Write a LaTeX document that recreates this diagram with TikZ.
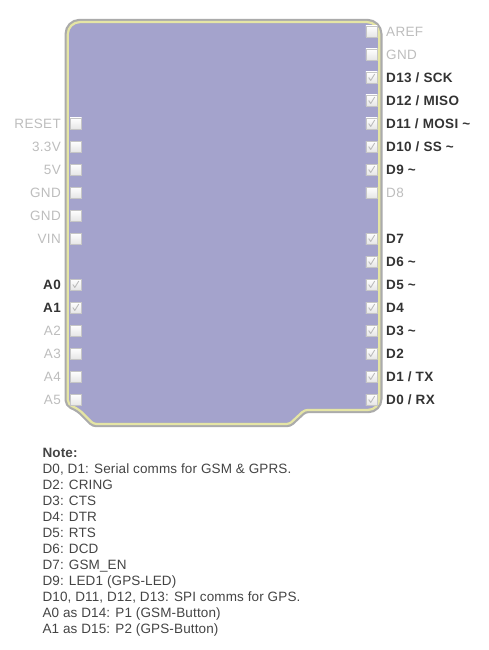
\documentclass[tikz,border=0pt]{standalone}
\usepackage{fontspec}
\setmainfont{Liberation Sans}
\newfontfamily\labelfont[LetterSpace=2.5]{Liberation Sans}
\newfontfamily\notefont[LetterSpace=1]{Liberation Sans}
\definecolor{boardfill}{HTML}{A4A3CC}
\definecolor{boardyel}{HTML}{E5E5A5}
\definecolor{boardgray}{HTML}{ABABAB}
\definecolor{txtdark}{HTML}{333333}
\definecolor{txtgray}{HTML}{BDBDBD}
\definecolor{notetxt}{HTML}{444444}
\definecolor{boxgray}{HTML}{C6C6C6}
\definecolor{boxbot}{HTML}{E6E6E6}
\definecolor{checkcol}{HTML}{BCBCBC}
\tikzset{
  pinbox/.style={draw=boxgray, line width=0.8pt, minimum width=11.5pt, minimum height=11pt,
    inner sep=0pt, top color=white, bottom color=boxbot},
  pinchecked/.style={pinbox, path picture={
    \draw[checkcol, line width=0.9pt, line join=round]
      ([xshift=-3pt,yshift=0pt]path picture bounding box.center) --
      ([xshift=-1pt,yshift=-3pt]path picture bounding box.center) --
      ([xshift=3pt,yshift=3.5pt]path picture bounding box.center);}},
  onlbl/.style={font={\labelfont\bfseries\fontsize{13.5pt}{16pt}\selectfont}, text=txtdark, inner sep=0pt},
  offlbl/.style={font={\labelfont\fontsize{13.5pt}{16pt}\selectfont}, text=txtgray, inner sep=0pt},
}
\def\boardpath{(66.7,300) [rounded corners=13pt] -- (66.7,21) -- (380.3,21) [rounded corners=12pt] -- (380.3,411)
  [rounded corners=3pt] -- (305,411) -- (290,425) -- (93,425) [rounded corners=5pt] -- (78,410) -- (66.7,405) -- cycle}
\begin{document}
\begin{tikzpicture}[x=1pt,y=-1pt]
\useasboundingbox (0,0) rectangle (489,650);
% board
\path[fill=boardfill, draw=boardgray, line width=4.4pt] \boardpath;
\begin{scope}
  \clip \boardpath;
  \draw[boardyel, line width=4.4pt] \boardpath;
\end{scope}
% right header
\foreach \nm/\y/\lab/\st in {
  raref/31.5/{AREF}/off, rgnd/54.5/{GND}/off, rd13/77.5/{D13 / SCK}/on, rd12/100.5/{D12 / MISO}/on,
  rd11/123.5/{D11 / MOSI \textasciitilde}/on, rd10/146.5/{D10 / SS \textasciitilde}/on,
  rd9/169.5/{D9 \textasciitilde}/on, rd8/192.5/{D8}/off, rd7/238.5/{D7}/on,
  rd6/261.5/{D6 \textasciitilde}/on, rd5/284.5/{D5 \textasciitilde}/on, rd4/307.5/{D4}/on,
  rd3/330.5/{D3 \textasciitilde}/on, rd2/353.5/{D2}/on, rd1/376.5/{D1 / TX}/on, rd0/399.5/{D0 / RX}/on}{
  \ifnum\pdfstrcmp{\st}{on}=0
    \node[pinchecked] (\nm box) at (371.7,\y) {};
    \node[onlbl, anchor=base west] (\nm) at (386,\y+4.8) {\lab};
  \else
    \node[pinbox] (\nm box) at (371.7,\y) {};
    \node[offlbl, anchor=base west] (\nm) at (386,\y+4.8) {\lab};
  \fi
}
% left header
\foreach \nm/\y/\lab/\st in {
  lreset/123.5/{RESET}/off, l33/146.5/{3.3V}/off, l5v/169.5/{5V}/off, lgnda/192.5/{GND}/off,
  lgndb/215.5/{GND}/off, lvin/238.5/{VIN}/off, la0/284.5/{A0}/on, la1/307.5/{A1}/on,
  la2/330.5/{A2}/off, la3/353.5/{A3}/off, la4/376.5/{A4}/off, la5/399.5/{A5}/off}{
  \ifnum\pdfstrcmp{\st}{on}=0
    \node[pinchecked] (\nm box) at (75.8,\y) {};
    \node[onlbl, anchor=base east] (\nm) at (61,\y+4.8) {\lab};
  \else
    \node[pinbox] (\nm box) at (75.8,\y) {};
    \node[offlbl, anchor=base east] (\nm) at (61,\y+4.8) {\lab};
  \fi
}
% note
\node[anchor=north west, inner sep=0pt, align=left, text=notetxt,
  font={\notefont\fontsize{13.5pt}{16pt}\selectfont}] (note) at (42.3,448.3) {%
  {\bfseries Note:}\\
  D0, D1: Serial comms for GSM \& GPRS.\\
  D2: CRING\\
  D3: CTS\\
  D4: DTR\\
  D5: RTS\\
  D6: DCD\\
  D7: GSM\_EN\\
  D9: LED1 (GPS-LED)\\
  D10, D11, D12, D13: SPI comms for GPS.\\
  A0 as D14: P1 (GSM-Button)\\
  A1 as D15: P2 (GPS-Button)};
\end{tikzpicture}
\end{document}
